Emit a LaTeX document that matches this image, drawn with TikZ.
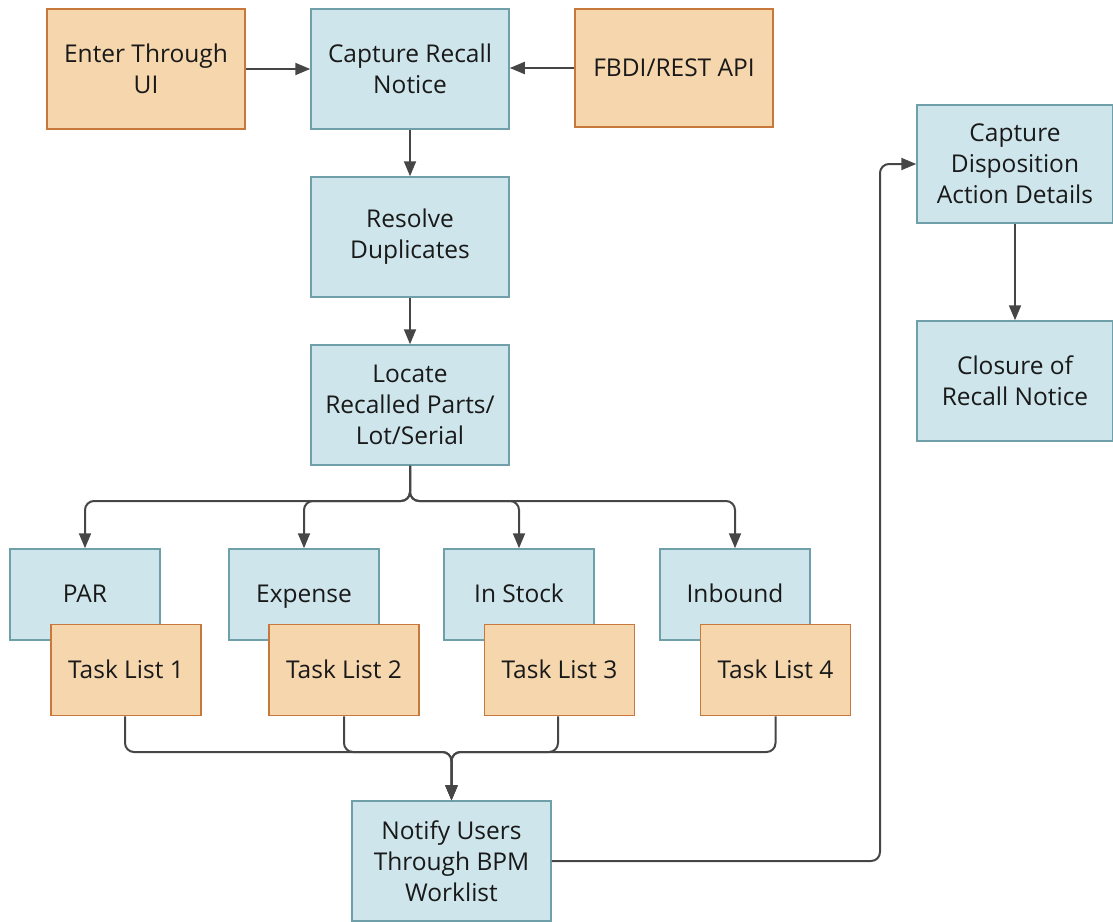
\documentclass[tikz,border=0pt]{standalone}
\usepackage{fontspec}
\setmainfont{Open Sans}
\usetikzlibrary{arrows.meta}
\definecolor{bfill}{HTML}{CDE5EB}
\definecolor{bdraw}{HTML}{6FA0AA}
\definecolor{ofill}{HTML}{F5D6AD}
\definecolor{odraw}{HTML}{C9783C}
\definecolor{lcol}{HTML}{464646}
\begin{document}
\begin{tikzpicture}[x=1pt,y=-1pt,
  base/.style={rectangle, line width=1.5pt, align=center, inner sep=0pt,
    font=\fontsize{24.5}{31}\selectfont, text=black!90},
  bigbox/.style={base, minimum width=198pt, minimum height=120pt},
  smallbox/.style={base, minimum width=150pt, minimum height=91pt, text height=20pt, text depth=4pt},
  blue/.style={fill=bfill, draw=bdraw},
  orange/.style={fill=ofill, draw=odraw},
  conn/.style={draw=lcol, line width=2pt, rounded corners=9pt},
  arr/.style={conn, -{Triangle[length=15pt,width=12pt]}}]
\useasboundingbox (0,0) rectangle (1113,921);
% top row
\node[bigbox, orange] (enter) at (146,69) {Enter Through\\UI};
\node[bigbox, blue] (capture) at (410,69) {Capture Recall\\Notice};
\node[bigbox, orange, minimum height=118pt] (fbdi) at (674,68) {FBDI/REST API};
\node[bigbox, blue] (resolve) at (410,237) {Resolve\\Duplicates};
\node[bigbox, blue] (locate) at (410,405) {Locate\\Recalled Parts/\\Lot/Serial};
% branches
\node[smallbox, blue] (par) at (85,594.5) {PAR};
\node[smallbox, blue] (expense) at (304,594.5) {Expense};
\node[smallbox, blue] (instock) at (519,594.5) {In Stock};
\node[smallbox, blue] (inbound) at (735,594.5) {Inbound};
\node[smallbox, orange] (t1) at (126,670) {Task List 1};
\node[smallbox, orange] (t2) at (344,670) {Task List 2};
\node[smallbox, orange] (t3) at (559.5,670) {Task List 3};
\node[smallbox, orange] (t4) at (775.5,670) {Task List 4};
\node[bigbox, blue, minimum width=199pt] (notify) at (451.5,861) {Notify Users\\Through BPM\\Worklist};
\node[bigbox, blue, minimum width=196pt, minimum height=118pt] (disp) at (1015,164) {Capture\\Disposition\\Action Details};
\node[bigbox, blue, minimum width=196pt] (closure) at (1015,381) {Closure of\\Recall Notice};
% helper coordinates
\coordinate (split) at (410,501);
\coordinate (merge) at (451.5,752);
\coordinate (bend) at (880,0);
% connectors
\draw[arr] (enter.east) -- (capture.west);
\draw[arr] (fbdi.west) -- (capture.east |- fbdi.west);
\draw[arr] (capture.south) -- (resolve.north);
\draw[arr] (resolve.south) -- (locate.north);
\draw[arr] (locate.south) -- (split) -| (par.north);
\draw[arr] (locate.south) -- (split) -| (expense.north);
\draw[arr] (locate.south) -- (split) -| (instock.north);
\draw[arr] (locate.south) -- (split) -| (inbound.north);
\draw[arr] (t1.south -| 125,0) |- (merge) -- (notify.north);
\draw[arr] (t2.south) |- (merge) -- (notify.north);
\draw[arr] (t3.south -| 558,0) |- (merge) -- (notify.north);
\draw[arr] (t4.south) |- (merge) -- (notify.north);
\draw[arr] (notify.east) -- (notify.east -| bend) -- (disp.west -| bend) -- (disp.west);
\draw[arr] (disp.south) -- (closure.north);
\end{tikzpicture}
\end{document}
